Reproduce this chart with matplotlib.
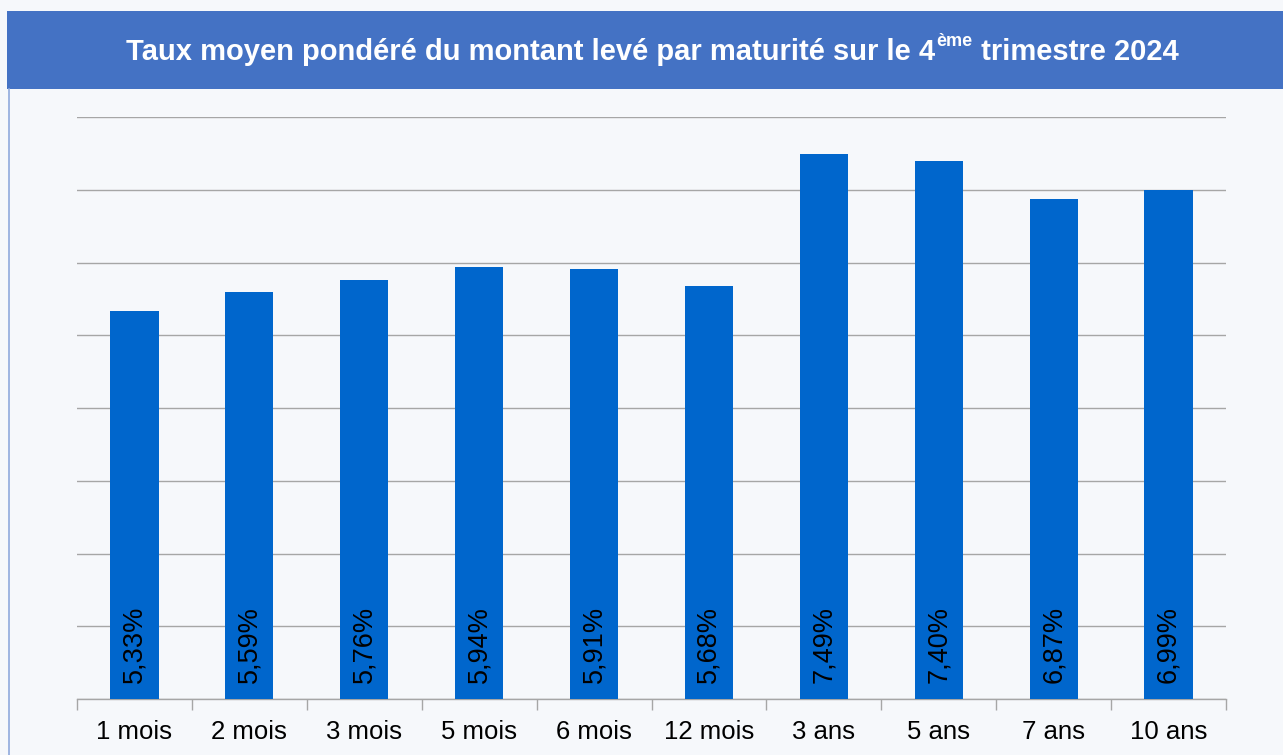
import matplotlib
matplotlib.use("Agg")
import matplotlib.pyplot as plt
from matplotlib.patches import Rectangle
from matplotlib.lines import Line2D

categories = ["1 mois", "2 mois", "3 mois", "5 mois", "6 mois", "12 mois",
              "3 ans", "5 ans", "7 ans", "10 ans"]
values = [5.33, 5.59, 5.76, 5.94, 5.91, 5.68, 7.49, 7.40, 6.87, 6.99]
labels = ["5,33%", "5,59%", "5,76%", "5,94%", "5,91%", "5,68%",
          "7,49%", "7,40%", "6,87%", "6,99%"]

plt.rcParams['font.family'] = ['Liberation Sans', 'DejaVu Sans']

W, H = 1283, 755
fig = plt.figure(figsize=(W / 100, H / 100), dpi=100)
fig.patch.set_facecolor("#f6f8fb")

# title bar
fig.patches.append(Rectangle((7 / W, 1 - 89 / H), 1 - 7 / W, 78 / H,
                             transform=fig.transFigure, facecolor="#4472c4",
                             edgecolor="none", zorder=0))
# left border line
fig.lines.append(Line2D([8.5 / W, 8.5 / W], [0, 1 - 89 / H], transform=fig.transFigure,
                        color="#8fa9dc", linewidth=1.2))

ax = fig.add_axes([77 / W, 1 - 699 / H, (1226 - 77) / W, (699 - 117) / H])
ax.set_facecolor("none")
x = list(range(len(categories)))
ax.bar(x, values, width=0.42, color="#0066cc", zorder=3)
ax.set_xlim(-0.5, len(categories) - 0.5)
ax.set_ylim(0, 8)
ax.set_yticks(range(0, 9))
ax.yaxis.grid(True, color="#a6a6a6", linewidth=1.0, zorder=0)
ax.tick_params(axis="y", left=False, labelleft=False)
ax.set_xticks(x)
ax.set_xticklabels(categories, fontsize=18.5, color="#000000")
ax.set_xticks([i - 0.5 for i in range(len(categories) + 1)], minor=True)
ax.tick_params(axis="x", which="major", length=0, pad=15)
ax.tick_params(axis="x", which="minor", length=8, color="#a6a6a6", width=1)
for s in ["left", "right", "top"]:
    ax.spines[s].set_visible(False)
ax.spines["bottom"].set_color("#a6a6a6")
ax.spines["bottom"].set_linewidth(1.0)

for xi, v, lab in zip(x, values, labels):
    ax.annotate(lab, xy=(xi, 0), xytext=(0, 11.5), textcoords="offset points",
                rotation=90, ha="center", va="bottom", fontsize=19.5, color="#000000",
                zorder=4)

# title with superscript
fig.canvas.draw()
r = fig.canvas.get_renderer()
ty = 1 - 52 / H
p1 = "Taux moyen pondéré du montant levé par maturité sur le 4"
p2 = "ème"
p3 = " trimestre 2024"
t1 = fig.text(0, ty, p1, fontsize=21, fontweight="bold", color="white", va="center")
t2 = fig.text(0, ty + 11 / H, p2, fontsize=13, fontweight="bold", color="white", va="center")
t3 = fig.text(0, ty, p3, fontsize=21, fontweight="bold", color="white", va="center")
w1 = t1.get_window_extent(r).width
w2 = t2.get_window_extent(r).width
w3 = t3.get_window_extent(r).width
total = w1 + w2 + w3
x0 = 652 - total / 2
t1.set_x(x0 / W)
t2.set_x((x0 + w1 + 1) / W)
t3.set_x((x0 + w1 + w2 + 1) / W)

fig.savefig("out.png", dpi=100, facecolor=fig.get_facecolor())
